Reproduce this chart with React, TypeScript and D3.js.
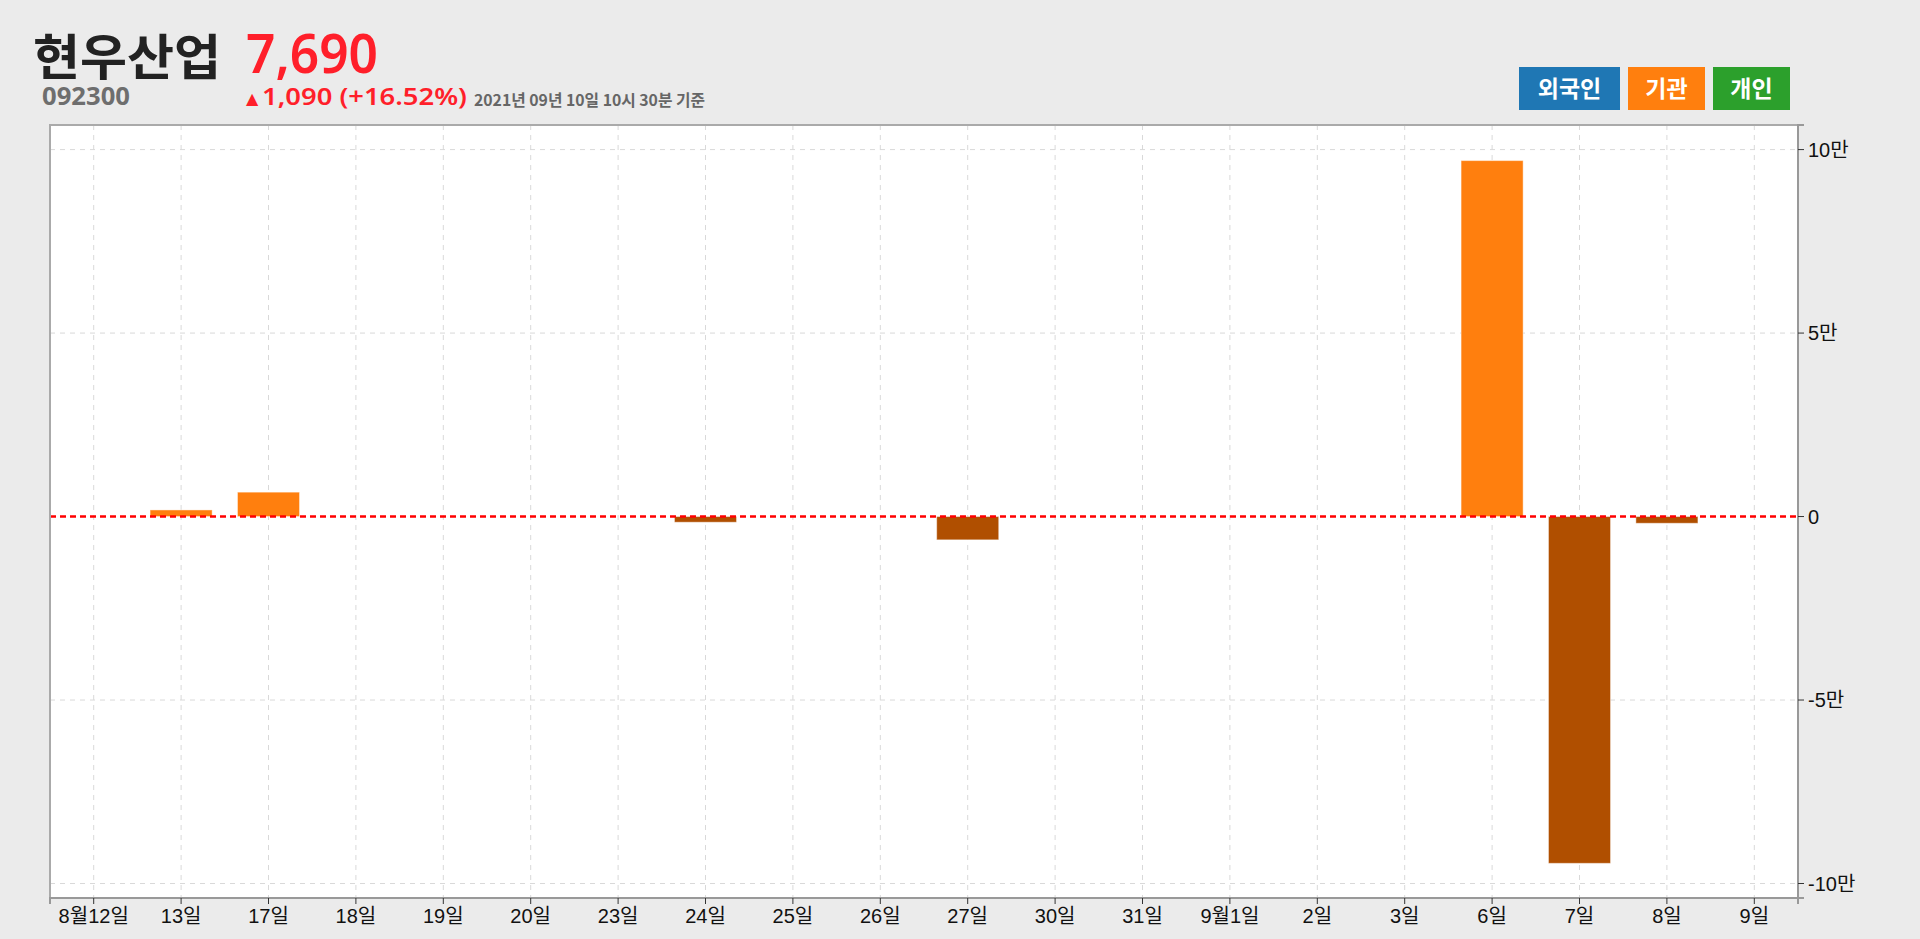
import React from "react";
import * as d3 from "d3";

const categories = ["8월12일", "13일", "17일", "18일", "19일", "20일", "23일", "24일", "25일", "26일", "27일", "30일", "31일", "9월1일", "2일", "3일", "6일", "7일", "8일", "9일"];
const institutionValues = [0, 1800, 6650, 0, 0, 0, 0, -1550, 0, 0, -6350, 0, 0, 0, 0, 0, 97000, -94500, -1830, 0];
const yTickValues = [100000, 50000, 0, -50000, -100000];
const yTickLabels = ["10만", "5만", "0", "-5만", "-10만"];
const legendLabels = ["외국인", "기관", "개인"];
const legendColors = ["#1f77b4", "#ff7f0e", "#2ca02c"];

const W = 1920, H = 939;
const plot = { left: 50, right: 1798, top: 125, bottom: 898 };
const axisFont = "'Liberation Sans', Arial, 'Noto Sans CJK KR', sans-serif";
const cjk = "'Noto Sans CJK KR', 'Noto Sans', sans-serif";

export default function App() {
  const x = d3.scalePoint<string>().domain(categories).range([plot.left, plot.right]).padding(0.5);
  const step = x.step();
  const barW = step * 0.71;
  const maxV = d3.max(institutionValues) as number;
  const minV = d3.min(institutionValues) as number;
  const y = d3.scaleLinear().domain([minV * 1.1, maxV * 1.1]).range([plot.bottom, plot.top]);

  const legendX = [1519, 1628, 1713];
  const legendW = [101, 77, 77];

  return (
    <svg width={W} height={H} style={{ position: "absolute", left: 0, top: 0, background: "#ebebeb" }}>
      <rect x={0} y={0} width={W} height={H} fill="#ebebeb" />
      {/* header */}
      <text x={33} y={75} fontFamily={cjk} fontWeight={700} fontSize={49} fill="#222" textLength={188} lengthAdjust="spacingAndGlyphs">현우산업</text>
      <text x={42} y={105} fontFamily="'Noto Sans', sans-serif" fontWeight={700} fontSize={25} fill="#6e6e6e" textLength={88} lengthAdjust="spacingAndGlyphs">092300</text>
      <text x={246} y={73} fontFamily="'Noto Sans', sans-serif" fontWeight={600} fontSize={54} fill="#ff1f2a" textLength={132} lengthAdjust="spacingAndGlyphs">7,690</text>
      <text x={246} y={104} fill="#ff1f2a" fontFamily="'DejaVu Sans', sans-serif" fontSize={16}>▲</text>
      <text x={262} y={105} fontFamily="'Noto Sans', sans-serif" fontWeight={600} fontSize={24} fill="#ff1f2a" textLength={205} lengthAdjust="spacingAndGlyphs">1,090 (+16.52%)</text>
      <text x={474} y={106} fontFamily={cjk} fontWeight={700} fontSize={16} fill="#666" textLength={231} lengthAdjust="spacingAndGlyphs">2021년 09년 10일 10시 30분 기준</text>

      {/* legend */}
      {legendLabels.map((l, i) => (
        <g key={l}>
          <rect x={legendX[i]} y={67} width={legendW[i]} height={43} fill={legendColors[i]} />
          <text x={legendX[i] + legendW[i] / 2} y={97} textAnchor="middle" fontFamily={cjk} fontWeight={700} fontSize={23} fill="#fff">{l}</text>
        </g>
      ))}

      {/* plot */}
      <rect x={plot.left} y={plot.top} width={plot.right - plot.left} height={plot.bottom - plot.top} fill="#fff" />
      {yTickValues.map((v) => (
        <line key={"hg" + v} x1={plot.left} x2={plot.right} y1={y(v)} y2={y(v)} stroke="#d9d9d9" strokeWidth={1} strokeDasharray="5,5" />
      ))}
      {categories.map((c) => (
        <line key={"vg" + c} x1={x(c)} x2={x(c)} y1={plot.top} y2={plot.bottom} stroke="#d9d9d9" strokeWidth={1} strokeDasharray="5,5" />
      ))}

      {institutionValues.map((v, i) => {
        if (v === 0) return null;
        const cx = x(categories[i]) as number;
        const y0 = y(0), y1 = y(v);
        return (
          <rect key={"b" + i} x={cx - barW / 2} y={Math.min(y0, y1)} width={barW} height={Math.abs(y1 - y0)}
            fill={v > 0 ? "#ff7f0e" : "#b04f00"} stroke="#fff" strokeOpacity={0.45} strokeWidth={1} />
        );
      })}

      <line x1={plot.left} x2={plot.right} y1={y(0)} y2={y(0)} stroke="#ff0000" strokeWidth={2.5} strokeDasharray="6,4" />

      {/* frame */}
      <path d={`M${plot.left},${plot.bottom}V${plot.top}H${plot.right}`} fill="none" stroke="#aaa" strokeWidth={2} />

      {/* right axis */}
      <path d={`M${plot.right + 6},${plot.top}H${plot.right}V${plot.bottom}H${plot.right + 6}`} fill="none" stroke="#999" strokeWidth={2} />
      {yTickValues.map((v, i) => (
        <g key={"yt" + v}>
          <line x1={plot.right} x2={plot.right + 6} y1={y(v)} y2={y(v)} stroke="#333" strokeWidth={1} />
          <text x={plot.right + 10} y={y(v)} dy="0.35em" fontFamily={axisFont} fontSize={20} fill="#111">{yTickLabels[i]}</text>
        </g>
      ))}

      {/* bottom axis */}
      <path d={`M${plot.left},${plot.bottom + 6}V${plot.bottom}H${plot.right}V${plot.bottom + 6}`} fill="none" stroke="#999" strokeWidth={2} />
      {categories.map((c) => (
        <g key={"xt" + c}>
          <line x1={x(c)} x2={x(c)} y1={plot.bottom} y2={plot.bottom + 6} stroke="#333" strokeWidth={1} />
          <text x={x(c)} y={plot.bottom + 25} textAnchor="middle" fontFamily={axisFont} fontSize={20} fill="#111">{c}</text>
        </g>
      ))}
    </svg>
  );
}
